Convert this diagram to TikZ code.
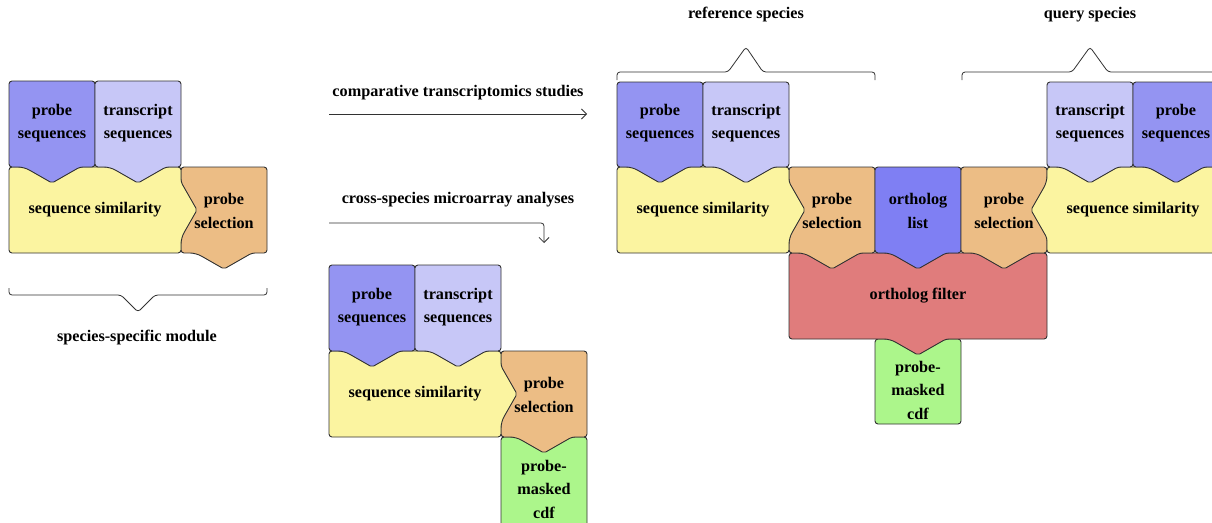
\documentclass[tikz,border=0pt]{standalone}
\usepackage{fontspec}
\setmainfont{Liberation Serif}
\usetikzlibrary{arrows.meta,calc}
\definecolor{cprobe}{RGB}{148,148,242}
\definecolor{ctrans}{RGB}{199,199,247}
\definecolor{csim}{RGB}{251,244,160}
\definecolor{csel}{RGB}{236,189,133}
\definecolor{corth}{RGB}{127,127,243}
\definecolor{cfilt}{RGB}{224,124,124}
\definecolor{cmask}{RGB}{172,246,139}
\definecolor{cline}{RGB}{50,50,50}
\newcommand\lbfont{\fontsize{16.2}{23.5}\selectfont\bfseries}
% plain box
\newcommand\shpP[5]{\draw[boxst,fill=#5] (#1,#2) -- (#3,#2) -- (#3,#4) -- (#1,#4) -- cycle;}
% box with bottom V
\newcommand\shpB[5]{\draw[boxst,fill=#5] (#1,#2) -- (#3,#2) -- (#3,#4) -- ({(#1+#3)/2+28},#4) [rounded corners=2pt] -- ({(#1+#3)/2},{#4+16}) [rounded corners=6pt] -- ({(#1+#3)/2-28},#4) [rounded corners=3pt] -- (#1,#4) -- cycle;}
% box with right V
\newcommand\shpR[5]{\draw[boxst,fill=#5] (#1,#2) -- (#3,#2) -- (#3,{(#2+#4)/2-28}) [rounded corners=2pt] -- ({#3+16},{(#2+#4)/2}) [rounded corners=6pt] -- (#3,{(#2+#4)/2+28}) [rounded corners=3pt] -- (#3,#4) -- (#1,#4) -- cycle;}
% box with left V
\newcommand\shpL[5]{\draw[boxst,fill=#5] (#1,#2) -- (#3,#2) -- (#3,#4) -- (#1,#4) -- (#1,{(#2+#4)/2+28}) [rounded corners=2pt] -- ({#1-16},{(#2+#4)/2}) [rounded corners=6pt] -- (#1,{(#2+#4)/2-28}) [rounded corners=3pt] -- cycle;}
\begin{document}
\begin{tikzpicture}[x=1pt,y=-1pt,
  boxst/.style={draw=cline,line width=0.9pt,rounded corners=3pt},
  lbl/.style={font=\lbfont,align=center,text=black,inner sep=0pt},
  conn/.style={draw=cline,line width=0.8pt,-{Straight Barb[length=5pt,width=10pt]}},
  bracest/.style={draw=cline,line width=0.8pt,rounded corners=3pt}]
\clip (0,0) rectangle (1212,522);
\fill[white] (0,0) rectangle (1212,522);

% ---------- left module ----------
\shpB{181}{167}{267}{253}{csel}
\shpR{9}{167}{181}{253}{csim}
\shpB{9}{81}{95}{167}{cprobe}
\shpB{95}{81}{181}{167}{ctrans}
\node[lbl] (lps) at (52,123) {probe\\sequences};
\node[lbl] (lts) at (138,123) {transcript\\sequences};
\node[lbl] (lsim) at (95,210) {sequence similarity};
\node[lbl] (lsel) at (224,211) {probe\\selection};
\draw[bracest] (9,288) -- (9,295) -- (121,295) -- (138,312) -- (155,295) -- (267,295) -- (267,288);
\node[lbl] (lmod) at (137,338) {species-specific module};

% ---------- arrows ----------
\coordinate (a1s) at (329,114);
\coordinate (a1e) at (587,114);
\draw[conn] (a1s) -- (a1e);
\node[lbl] (a1l) at (458,93) {comparative transcriptomics studies};
\coordinate (a2s) at (329,223);
\coordinate (a2c) at (544,223);
\coordinate (a2e) at (544,243);
\draw[conn,rounded corners=3pt] (a2s) -- (a2c) -- (a2e);
\node[lbl] (a2l) at (458,200) {cross-species microarray analyses};

% ---------- middle module ----------
\shpP{501}{437}{587}{530}{cmask}
\shpB{501}{351}{587}{437}{csel}
\shpR{329}{351}{501}{437}{csim}
\shpB{329}{265}{415}{351}{cprobe}
\shpB{415}{265}{501}{351}{ctrans}
\node[lbl] (mps) at (372,307) {probe\\sequences};
\node[lbl] (mts) at (458,307) {transcript\\sequences};
\node[lbl] (msim) at (415,394) {sequence similarity};
\node[lbl] (msel) at (544,395) {probe\\selection};
\node[lbl] (mmask) at (544,489) {probe-\\masked\\cdf};

% ---------- right module ----------
\shpP{875}{339}{961}{424}{cmask}
\shpB{789}{253}{1047}{339}{cfilt}
\shpB{789}{167}{875}{253}{csel}
\shpB{875}{167}{961}{253}{corth}
\shpB{961}{167}{1047}{253}{csel}
\shpR{617}{167}{789}{253}{csim}
\shpL{1047}{167}{1219}{253}{csim}
\shpB{617}{82}{703}{167}{cprobe}
\shpB{703}{82}{789}{167}{ctrans}
\shpB{1047}{82}{1133}{167}{ctrans}
\shpB{1133}{82}{1219}{167}{cprobe}
\node[lbl] (rps1) at (660,123) {probe\\sequences};
\node[lbl] (rts1) at (746,123) {transcript\\sequences};
\node[lbl] (rts2) at (1090,123) {transcript\\sequences};
\node[lbl] (rps2) at (1176,123) {probe\\sequences};
\node[lbl] (rsim1) at (703,210) {sequence similarity};
\node[lbl] (rsim2) at (1133,210) {sequence similarity};
\node[lbl] (rsel1) at (832,211) {probe\\selection};
\node[lbl] (rorth) at (918,211) {ortholog\\list};
\node[lbl] (rsel2) at (1004,211) {probe\\selection};
\node[lbl] (rfilt) at (918,296) {ortholog filter};
\node[lbl] (rmask) at (918,390) {probe-\\masked\\cdf};

% ---------- top braces ----------
\draw[bracest] (617,80) -- (617,72) -- (728,72) -- (746,47) -- (763,72) -- (875,72) -- (875,80);
\node[lbl] (refl) at (746,15) {reference species};
\draw[bracest] (962,80) -- (962,72) -- (1072,72) -- (1090,47) -- (1108,72) -- (1219,72) -- (1219,80);
\node[lbl] (qryl) at (1090,15) {query species};
\end{tikzpicture}
\end{document}
